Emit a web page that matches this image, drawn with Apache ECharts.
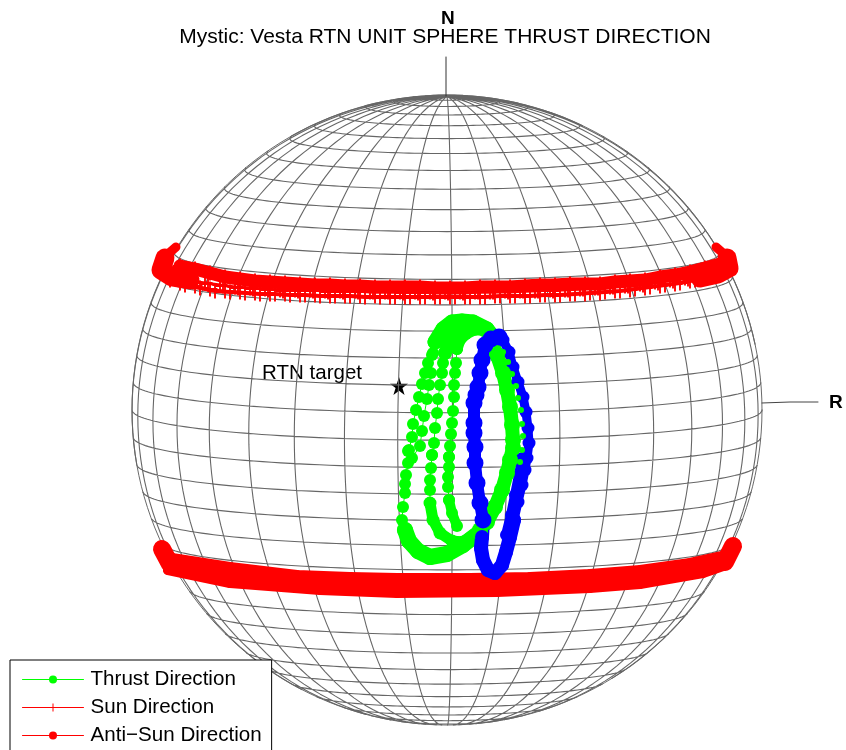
<!DOCTYPE html>
<html>
<head>
<meta charset="utf-8">
<title>Mystic: Vesta RTN unit sphere</title>
<script src="https://cdn.jsdelivr.net/npm/echarts@6/dist/echarts.min.js"></script>
<style>
  html, body { margin: 0; padding: 0; background: #fff; }
  #chart { width: 846px; height: 750px; }
</style>
</head>
<body>
<div id="chart"></div>
<script>
const titleText = 'Mystic: Vesta RTN UNIT SPHERE THRUST DIRECTION';
const thrustName = 'Thrust Direction';
const sunName = 'Sun Direction';
const antiSunName = 'Anti\u2212Sun Direction';
const targetName = 'RTN target';

// sphere graticule, degrees
const latitudes = [-85, -80, -75, -70, -65, -60, -55, -50, -45, -40, -35, -30, -25, -20, -15, -10, -5, 0,
  5, 10, 15, 20, 25, 30, 35, 40, 45, 50, 55, 60, 65, 70, 75, 80, 85];
const longitudes = [-179, -169, -159, -149, -139, -129, -119, -109, -99, -89, -79, -69, -59, -49, -39, -29, -19, -9,
  1, 11, 21, 31, 41, 51, 61, 71, 81, 91, 101, 111, 121, 131, 141, 151, 161, 171];

const northAxis = [[446, 57], [446, 96]];
const radialAxis = [[762, 403], [790, 402], [818, 402]];
const rtnTarget = [[399, 386]];

const sunTipLeft = [[176, 247], [168, 254]];
const sunHookLeft = [[165, 258], [161, 270], [172, 277], [190, 280]];
const sunTipRight = [[716, 247], [724, 254]];
const sunHookRight = [[727, 258], [729, 268], [718, 274], [700, 278]];
const sunRowA = [[180, 266], [195, 269], [210, 273], [225, 277], [240, 279], [255, 281], [270, 282], [285, 283],
  [300, 284], [315, 285], [330, 285], [345, 286], [360, 286], [375, 287], [390, 287], [405, 287], [420, 287],
  [435, 288], [450, 288], [465, 288], [480, 287], [495, 287], [510, 287], [525, 286], [540, 285], [555, 285],
  [570, 284], [585, 284], [600, 284], [615, 282], [630, 281], [645, 280], [660, 277], [675, 275], [690, 272],
  [705, 268], [720, 264]];
const sunRowB = [[175, 277], [190, 281], [205, 283], [220, 285], [235, 287], [250, 288], [265, 289], [280, 290],
  [295, 290], [310, 290], [325, 291], [340, 291], [355, 291], [370, 292], [385, 292], [400, 292], [415, 292],
  [430, 292], [445, 292], [460, 292], [475, 292], [490, 292], [505, 291], [520, 291], [535, 291], [550, 290],
  [565, 290], [580, 289], [595, 288], [610, 287], [625, 286], [640, 284], [655, 282], [670, 280], [685, 278],
  [700, 275], [715, 272]];
const sunRowC = [[170, 280], [185, 285], [200, 288], [215, 291], [230, 292], [245, 293], [260, 294], [275, 294],
  [290, 295], [305, 295], [320, 296], [335, 296], [350, 296], [365, 297], [380, 297], [395, 297], [410, 297],
  [425, 297], [440, 297], [455, 297], [470, 297], [485, 297], [500, 296], [515, 296], [530, 296], [545, 295],
  [560, 295], [575, 294], [590, 293], [605, 292], [620, 291], [635, 289], [650, 287], [665, 285], [680, 283],
  [695, 280], [710, 277]];
const sunRowD = [[180, 283], [195, 286], [210, 289], [225, 291], [240, 292], [255, 293], [270, 294], [285, 294],
  [300, 295], [315, 295], [330, 296], [345, 296], [360, 296], [375, 296], [390, 297], [405, 297], [420, 297],
  [435, 297], [450, 297], [465, 297], [480, 297], [495, 296], [510, 296], [525, 296], [540, 295], [555, 295],
  [570, 294], [585, 294], [600, 293], [615, 291], [630, 290], [645, 288], [660, 286], [675, 284], [690, 281]];
const sunRowE = [[178, 279], [193, 282], [208, 284], [223, 286], [238, 288], [253, 289], [268, 290], [283, 291],
  [298, 291], [313, 291], [328, 292], [343, 292], [358, 292], [373, 292], [388, 292], [403, 293], [418, 293],
  [433, 293], [448, 293], [463, 293], [478, 292], [493, 292], [508, 292], [523, 291], [538, 291], [553, 291],
  [568, 290], [583, 289], [598, 288], [613, 287], [628, 286], [643, 285], [658, 283], [673, 281], [688, 279]];

const antiSunTop = [[172, 558], [230, 567], [297, 575], [350, 577], [397, 578], [470, 578], [530, 577],
  [590, 574], [640, 570], [690, 563], [727, 555]];
const antiSunMid = [[168, 566], [230, 576], [308, 583], [350, 585], [397, 586], [470, 586], [510, 585],
  [590, 582], [640, 578], [697, 570], [728, 562]];
const antiSunBottom = [[168, 570], [230, 583], [320, 590], [397, 593], [497, 592], [590, 588], [640, 584],
  [703, 573], [726, 565]];
const antiSunCapLeft = [[162, 549], [170, 564]];
const antiSunCapRight = [[733, 546], [725, 562]];

const thrustColA = [[409, 450], [412, 437], [413, 424], [416, 410], [419, 397], [422, 384], [425, 373], [428, 363],
  [432, 355], [435, 342]];
const thrustColB = [[412, 458], [420, 446], [422, 431], [424, 416], [427, 399], [429, 385], [431, 373], [433, 353], [440, 336]];
const thrustColC = [[432, 455], [434, 443], [435, 428], [437, 413], [438, 399], [440, 385], [442, 373], [443, 363], [445, 353]];
const thrustColD = [[449, 457], [450, 446], [451, 434], [452, 423], [453, 411], [454, 397], [454, 385], [455, 373],
  [456, 363], [457, 349]];
const thrustColE = [[408, 451], [408, 463], [406, 475], [405, 484], [405, 493], [403, 507], [402, 520]];
const thrustColF = [[432, 455], [431, 468], [430, 480], [430, 490], [430, 503]];
const thrustColG = [[449, 457], [449, 467], [448, 477], [448, 487], [449, 500]];

const thrustTopArcs = [[435, 342], [443, 329], [452, 322], [462, 321], [473, 322], [487, 329], [494, 338]];
const thrustTopInner = [[445, 353], [449, 341], [456, 332], [466, 327], [478, 327], [490, 334]];
const thrustTopShort = [[457, 349], [460, 340], [466, 334], [474, 330], [486, 330]];
const thrustRight = [[490, 338], [497, 355], [503, 373], [507, 390], [510, 407], [512, 425], [513, 440], [513, 448],
  [510, 460], [507, 473], [502, 490], [495, 507], [487, 522], [480, 530]];
const thrustRightOuter = [[503, 352], [508, 362], [512, 374], [516, 386], [518, 398], [521, 410], [522, 424],
  [523, 436], [522, 450], [520, 462]];
const thrustLowOuter = [[405, 530], [409, 541], [418, 551], [430, 557], [447, 554], [463, 545], [480, 532]];
const thrustLowMiddle = [[430, 503], [433, 520], [440, 533], [452, 541], [463, 542], [480, 530]];
const thrustLowInner = [[449, 500], [452, 513], [457, 526]];

const blueRight = [[493, 335], [503, 340], [509, 352], [513, 367], [518, 382], [523, 397], [526, 412], [528, 428],
  [529, 443], [527, 458], [525, 470], [522, 485], [518, 502], [514, 520]];
const blueRightInner = [[522, 458], [519, 475], [515, 495], [511, 515], [506, 535]];
const blueBottom = [[514, 520], [510, 537], [506, 552], [502, 565], [495, 573], [488, 570], [483, 560], [481, 548],
  [482, 537], [483, 520]];
const blueLeft = [[483, 520], [480, 503], [477, 483], [475, 463], [475, 447], [474, 433], [474, 423], [474, 403],
  [476, 395], [478, 387], [480, 373], [482, 360], [485, 345], [491, 339], [499, 337]];

const viewCenter = [447, 410];
const viewRadius = 315;
const viewTilt = 5.5 * Math.PI / 180;

// orthographic view of the sphere, back side returns a gap
function project(latDeg, lonDeg) {
  const lat = latDeg * Math.PI / 180;
  const lon = lonDeg * Math.PI / 180;
  const depth = Math.cos(lat) * Math.cos(lon) * Math.cos(viewTilt) + Math.sin(lat) * Math.sin(viewTilt);
  if (depth < 0) return ['-', '-'];
  return [
    viewCenter[0] + viewRadius * Math.cos(lat) * Math.sin(lon),
    viewCenter[1] - viewRadius * (Math.sin(lat) * Math.cos(viewTilt)
      - Math.cos(lat) * Math.cos(lon) * Math.sin(viewTilt)),
  ];
}

function graticule() {
  const out = [];
  latitudes.forEach((lat) => {
    for (let lon = -180; lon <= 180; lon += 2) out.push(project(lat, lon));
    out.push(['-', '-']);
  });
  longitudes.forEach((lon) => {
    for (let lat = -90; lat <= 90; lat += 2) out.push(project(lat, lon));
    out.push(['-', '-']);
  });
  return out;
}

function limb() {
  const out = [];
  for (let a = 0; a <= 360; a += 2) {
    const t = a * Math.PI / 180;
    out.push([viewCenter[0] + viewRadius * Math.cos(t), viewCenter[1] + viewRadius * Math.sin(t)]);
  }
  return out;
}

const GREEN = '#00ff00';
const RED = '#ff0000';
const BLUE = '#0000ff';
const PLUS = 'path://M10.5,0h3v10.5h10.5v3h-10.5v10.5h-3v-10.5h-10.5v-3h10.5z';
const STAR = 'path://M50,0L62,36H100L69,58L81,95L50,72L19,95L31,58L0,36H38Z';
const TEXT_FONT = 'Liberation Sans';

function trace(name, data, color, symbol, size, width) {
  return {
    type: 'line',
    name,
    data,
    symbol,
    symbolSize: size,
    showSymbol: symbol !== 'none',
    showAllSymbol: true,
    lineStyle: { color, width, cap: 'round', join: 'round' },
    itemStyle: { color },
    silent: true,
  };
}

const series = [
  trace('limb', limb(), '#6a6a6a', 'none', 0, 1),
  trace('grid', graticule(), '#666', 'none', 0, 1.1),
  trace('northAxis', northAxis, '#333', 'none', 0, 1),
  trace('radialAxis', radialAxis, '#444', 'none', 0, 1),
  trace(sunName, sunRowB, RED, PLUS, 15, 3),
  trace(sunName, sunRowC, RED, PLUS, 15, 4),
  trace(sunName, sunRowD, RED, PLUS, 15, 2),
  trace(sunName, sunRowE, RED, PLUS, 15, 1),
  trace(sunName, sunRowA, RED, PLUS, 15, 13),
  trace(sunName, sunTipLeft, RED, 'none', 0, 9),
  trace(sunName, sunHookLeft, RED, 'none', 0, 19),
  trace(sunName, sunTipRight, RED, 'none', 0, 9),
  trace(sunName, sunHookRight, RED, 'none', 0, 19),
  trace(antiSunName, antiSunTop, RED, 'circle', 10, 10),
  trace(antiSunName, antiSunMid, RED, 'circle', 10, 10),
  trace(antiSunName, antiSunBottom, RED, 'circle', 10, 10),
  trace(antiSunName, antiSunCapLeft, RED, 'none', 0, 18),
  trace(antiSunName, antiSunCapRight, RED, 'none', 0, 18),
  trace('blue', blueRight, BLUE, 'circle', 13, 9),
  trace('blue', blueRightInner, BLUE, 'circle', 12, 10),
  trace(thrustName, thrustColA, GREEN, 'circle', 12, 1),
  trace(thrustName, thrustColB, GREEN, 'circle', 12, 1),
  trace(thrustName, thrustColC, GREEN, 'circle', 12, 1),
  trace(thrustName, thrustColD, GREEN, 'circle', 12, 1),
  trace(thrustName, thrustColE, GREEN, 'circle', 12, 1),
  trace(thrustName, thrustColF, GREEN, 'circle', 12, 1),
  trace(thrustName, thrustColG, GREEN, 'circle', 12, 1),
  trace(thrustName, thrustTopArcs, GREEN, 'circle', 15, 15),
  trace(thrustName, thrustTopInner, GREEN, 'circle', 14, 13),
  trace(thrustName, thrustTopShort, GREEN, 'circle', 12, 11),
  trace(thrustName, thrustRight, GREEN, 'circle', 16, 14),
  trace(thrustName, thrustRightOuter, GREEN, 'circle', 6, 0),
  trace(thrustName, thrustLowOuter, GREEN, 'circle', 16, 16),
  trace(thrustName, thrustLowMiddle, GREEN, 'circle', 13, 11),
  trace(thrustName, thrustLowInner, GREEN, 'circle', 12, 10),
  trace('blue', blueBottom, BLUE, 'circle', 14, 14),
  trace('blue', blueLeft, BLUE, 'circle', 17, 12),
  {
    type: 'scatter',
    name: targetName,
    data: rtnTarget,
    symbol: STAR,
    symbolSize: 18,
    itemStyle: { color: '#000', opacity: 1 },
    silent: true,
    label: {
      show: true,
      formatter: targetName,
      position: 'left',
      offset: [-23, -13],
      color: '#000',
      fontFamily: TEXT_FONT,
      fontSize: 20.5,
    },
  },
];

const chart = echarts.init(document.getElementById('chart'));
chart.setOption({
  animation: false,
  backgroundColor: '#fff',
  title: {
    text: titleText,
    left: 440,
    top: 22,
    textAlign: 'center',
    textStyle: { fontFamily: TEXT_FONT, fontSize: 21, fontWeight: 'normal', color: '#000' },
  },
  grid: { left: 0, right: 0, top: 0, bottom: 0 },
  xAxis: { type: 'value', min: 0, max: 846, show: false },
  yAxis: { type: 'value', min: 0, max: 750, inverse: true, show: false },
  legend: {
    orient: 'vertical',
    left: 10,
    top: 660,
    height: 110,
    padding: [9, 10, 20, 12],
    itemWidth: 61,
    itemHeight: 10,
    itemGap: 7,
    backgroundColor: '#fff',
    borderColor: '#000',
    borderWidth: 1,
    borderRadius: 0,
    textStyle: { fontFamily: TEXT_FONT, fontSize: 20.6, color: '#000', padding: [0, 0, 0, 2] },
    data: [
      { name: thrustName, lineStyle: { color: GREEN, width: 1 } },
      { name: sunName, lineStyle: { color: RED, width: 1 } },
      { name: antiSunName, lineStyle: { color: RED, width: 1 } },
    ],
    selectedMode: false,
  },
  graphic: [
    { type: 'text', left: 441, top: 9, style: { text: 'N', fontFamily: TEXT_FONT, fontSize: 19, fontWeight: 'bold', fill: '#000' } },
    { type: 'text', left: 829, top: 393, style: { text: 'R', fontFamily: TEXT_FONT, fontSize: 19, fontWeight: 'bold', fill: '#000' } },
  ],
  series,
});
</script>
</body>
</html>
